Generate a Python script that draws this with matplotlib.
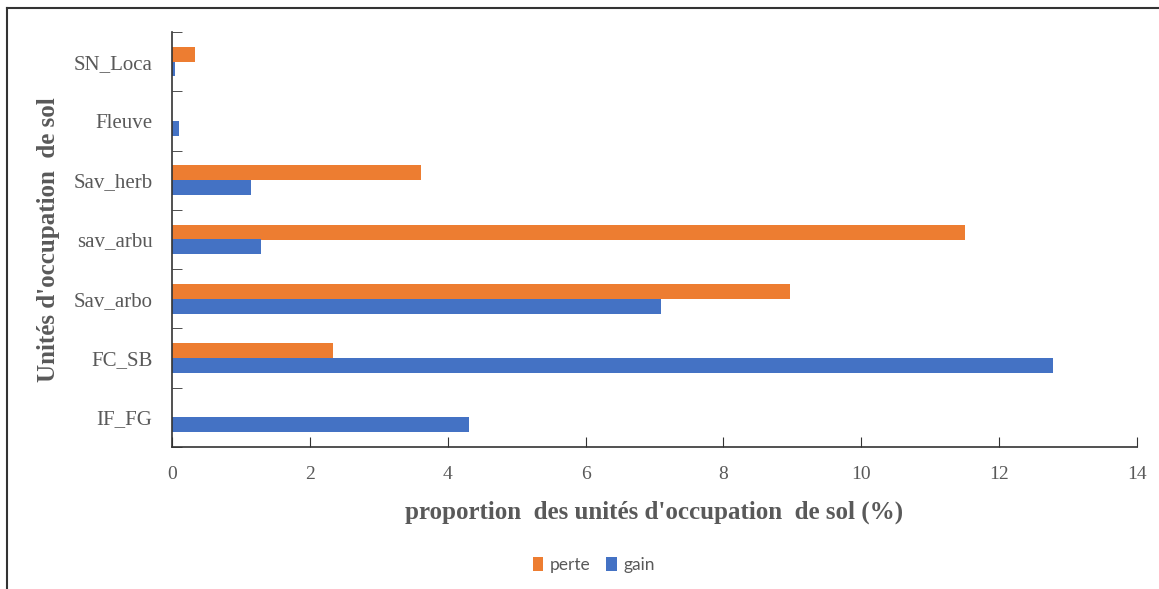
import matplotlib
matplotlib.use('Agg')
import matplotlib.pyplot as plt
from matplotlib.lines import Line2D
import numpy as np

categories = ['IF_FG', 'FC_SB', 'Sav_arbo', 'sav_arbu', 'Sav_herb', 'Fleuve', 'SN_Loca']
perte = [0.0, 2.34, 8.97, 11.50, 3.61, 0.0, 0.33]
gain = [4.31, 12.78, 7.09, 1.29, 1.15, 0.10, 0.05]
x_ticks = [0, 2, 4, 6, 8, 10, 12, 14]

ORANGE = '#ED7D31'
BLUE = '#4472C4'
TXT = '#595959'
SERIF = ['Liberation Serif', 'DejaVu Serif']

fig = plt.figure(figsize=(11.59, 5.89), dpi=100)
ax = fig.add_axes([172 / 1159, 1 - 447 / 589, (1137 - 172) / 1159, (447 - 32) / 589])

y = np.arange(len(categories))
h = 0.25
ax.barh(y + h / 2, perte, height=h, color=ORANGE, label='perte')
ax.barh(y - h / 2, gain, height=h, color=BLUE, label='gain')

ax.set_xlim(0, 14)
ax.set_ylim(-0.5, len(categories) - 0.5)
ax.set_xticks(x_ticks)
ax.set_xticklabels([str(v) for v in x_ticks], family=SERIF, fontsize=14, color=TXT)
ax.set_yticks(y)
ax.set_yticklabels(categories, family=SERIF, fontsize=15, color=TXT)
ax.set_yticks(np.arange(-0.5, len(categories)), minor=True)
ax.tick_params(axis='y', which='major', length=0, pad=14)
ax.tick_params(axis='y', which='minor', length=7, direction='in', color='#333333')
ax.tick_params(axis='x', length=7, direction='in', pad=14, color='#333333')

for s in ('top', 'right'):
    ax.spines[s].set_visible(False)
for s in ('left', 'bottom'):
    ax.spines[s].set_color('#333333')
    ax.spines[s].set_linewidth(1.2)

ax.set_xlabel("proportion  des unités d'occupation  de sol (%)", family=SERIF,
              fontsize=18, fontweight='bold', color=TXT, labelpad=12)
ax.set_ylabel("Unités d'occupation  de sol", family=SERIF,
              fontsize=18, fontweight='bold', color=TXT, labelpad=10)

fig.legend(handles=ax.get_legend_handles_labels()[0], labels=['perte', 'gain'],
           loc='center', bbox_to_anchor=(594 / 1159, 1 - 565 / 589), ncol=2,
           frameon=False, prop={'family': 'Lato', 'size': 12.5},
           handlelength=0.6, handleheight=0.8, handletextpad=0.4,
           columnspacing=0.9, labelcolor=TXT)

# outer frame (only the top and left edges are visible in the reference)
fig.add_artist(Line2D([7 / 1159, 1], [1 - 8 / 589, 1 - 8 / 589],
                      transform=fig.transFigure, color='#333333', lw=1.5))
fig.add_artist(Line2D([7 / 1159, 7 / 1159], [0, 1 - 8 / 589],
                      transform=fig.transFigure, color='#333333', lw=1.5))

fig.savefig('out.png', dpi=100)
